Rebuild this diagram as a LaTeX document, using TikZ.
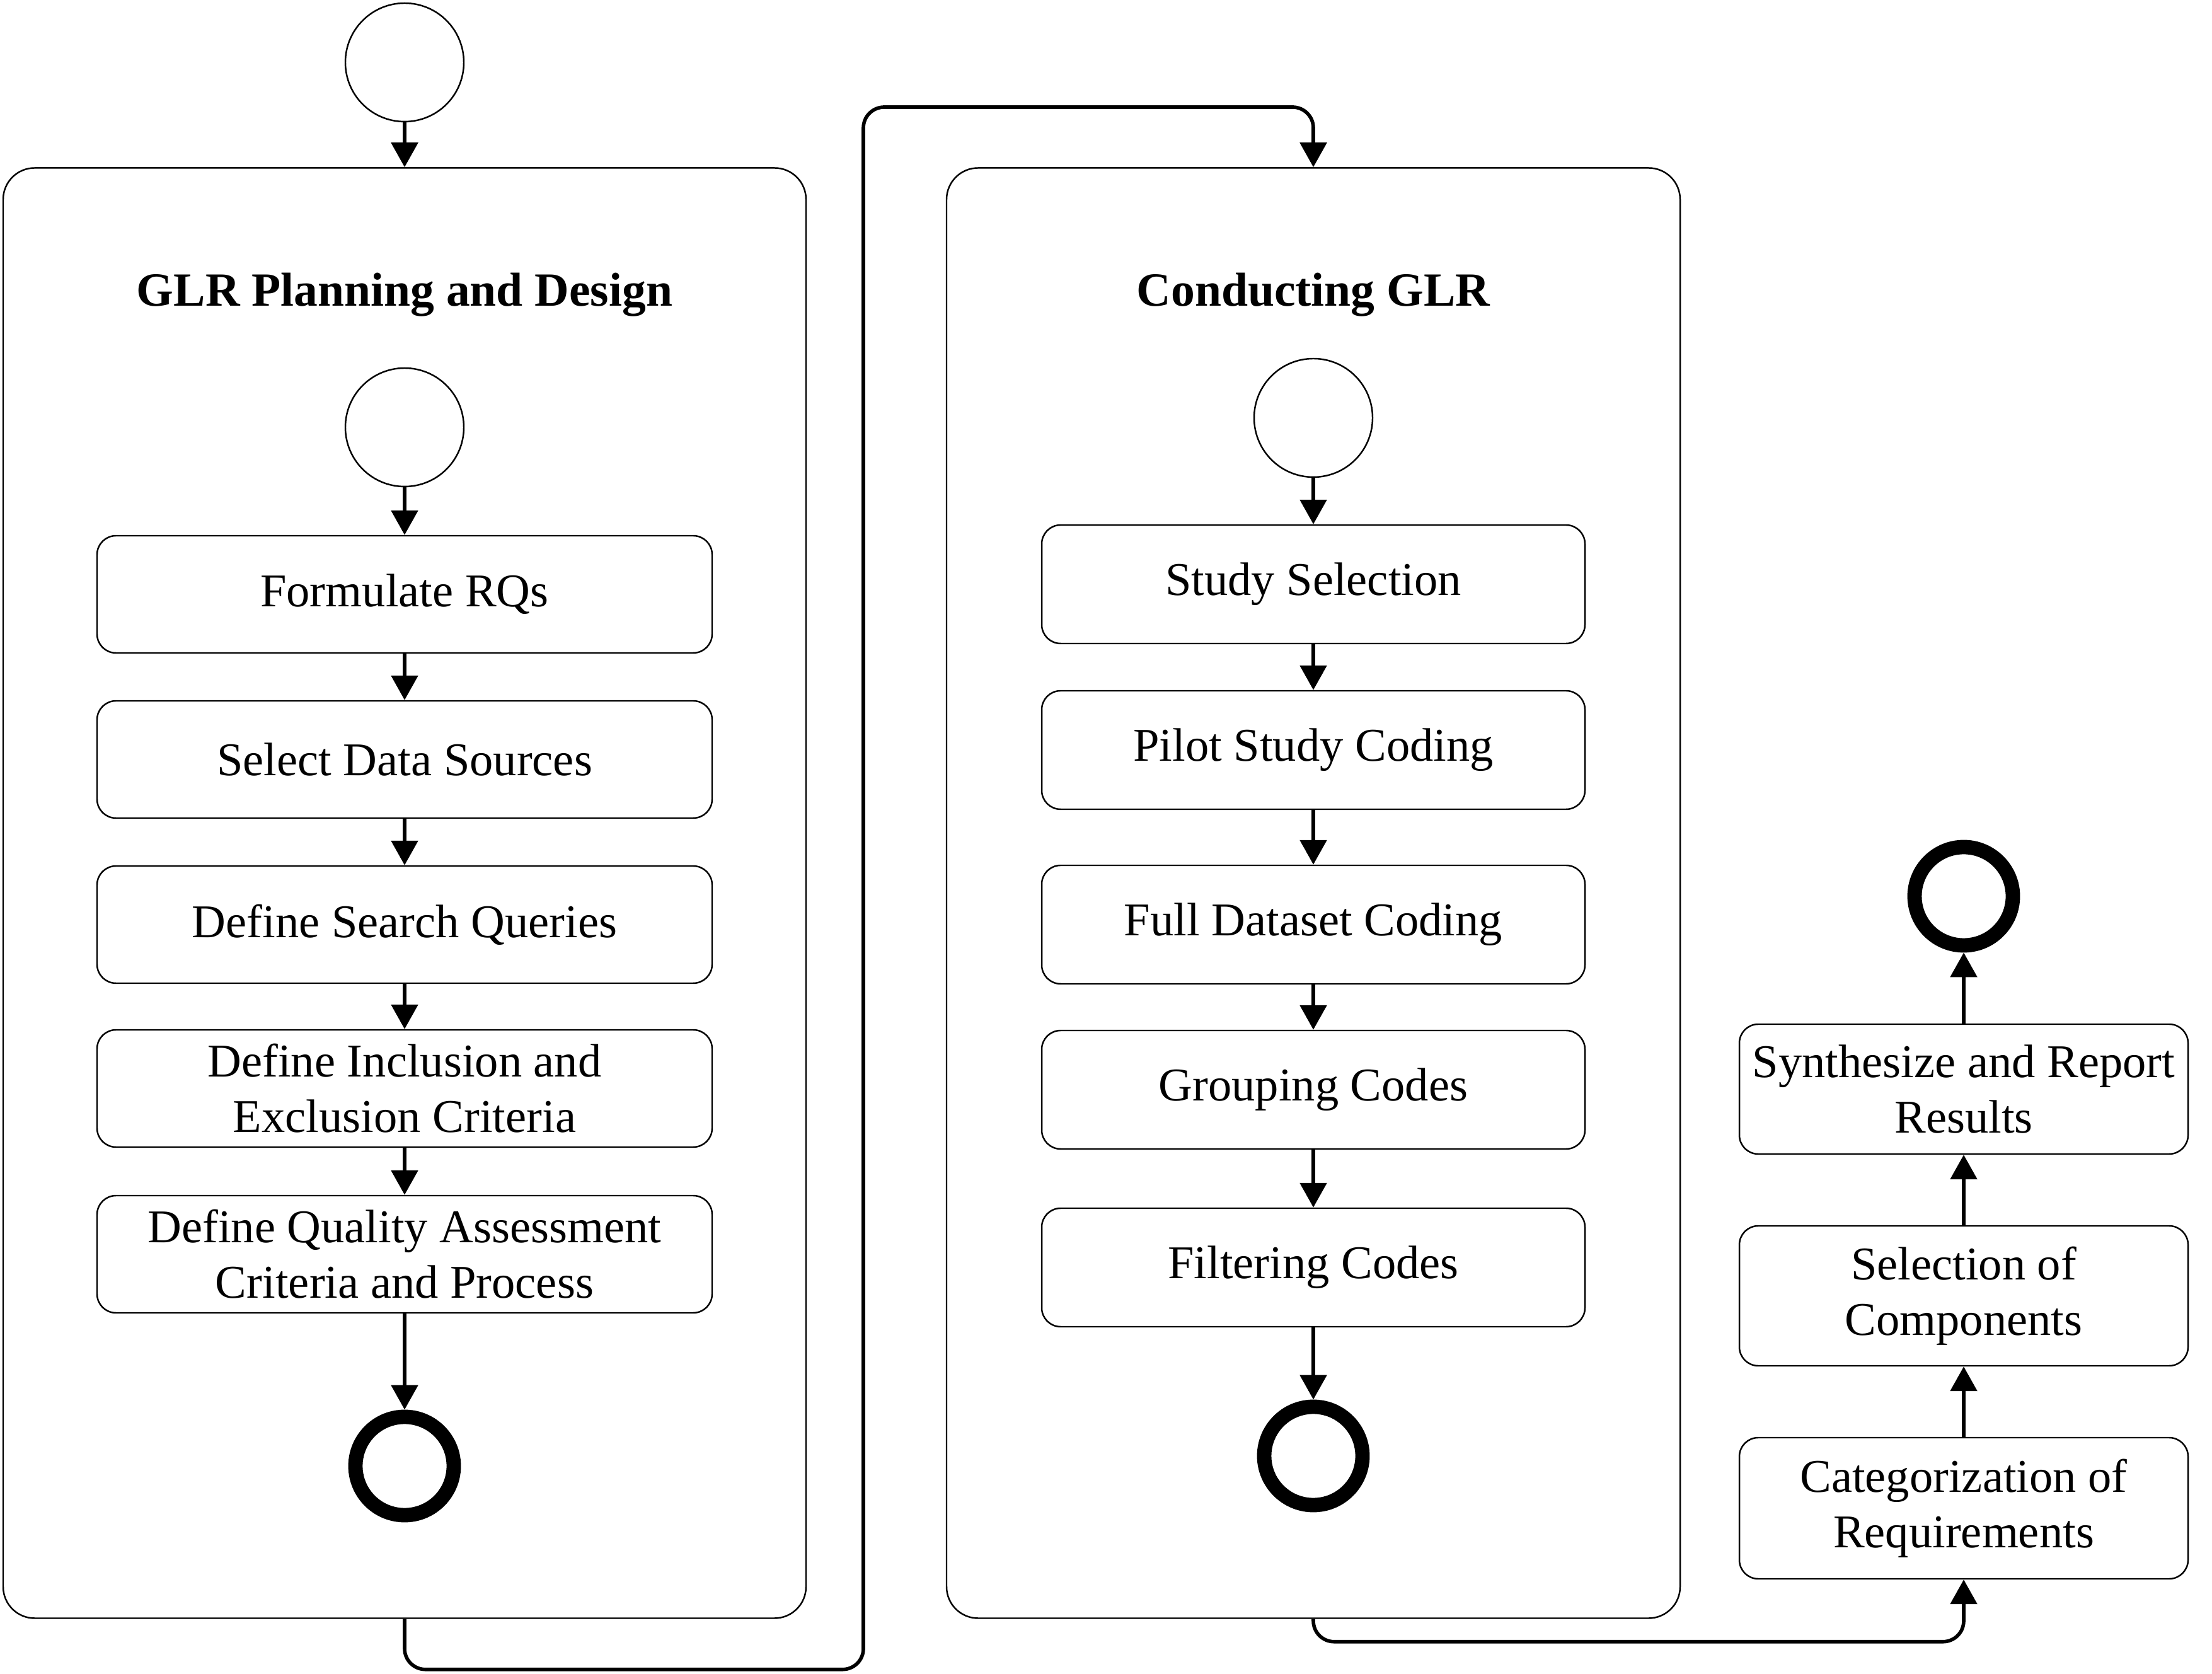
\documentclass[tikz,border=0pt]{standalone}
\usepackage{fontspec}
\setmainfont{Liberation Serif}
\usetikzlibrary{positioning,arrows.meta}
\tikzset{act/.style={rectangle,rounded corners=0.3cm,draw,line width=0.7pt,minimum width=9.76cm,minimum height=1.86cm,align=center},
            ini/.style={circle,draw,line width=0.7pt,minimum size=1.88cm},
            fin/.style={circle,draw,line width=6.5pt,minimum size=1.56cm},
            pan/.style={rectangle,rounded corners=0.5cm,draw,line width=0.7pt,minimum width=12.74cm,minimum height=23.01cm}}

\begin{document}
\begin{tikzpicture}[font=\fontsize{21.2}{25}\selectfont, >={Triangle[length=0.39cm,width=0.42cm]}]
\useasboundingbox (0,0) rectangle (35.1,26.55);
\node[ini] at (6.42,25.56)(0){};
\node[pan] at (6.42,12.38)(1){};
\node[font=\fontsize{21.5}{25}\selectfont\bfseries] at (6.42,21.87)(2){GLR Planning and Design};
\node[ini] at (6.42,19.77)(3){};
\node[act] at (6.42,17.12)(4){Formulate RQs};
\node[act] at (6.42,14.50)(5){Select Data Sources};
\node[act] at (6.42,11.88)(6){Define Search Queries};
\node[act] at (6.42,9.28)(7){Define Inclusion and\\Exclusion Criteria};
\node[act] at (6.42,6.65)(8){Define Quality Assessment\\Criteria and Process};
\node[fin] at (6.42,3.29)(9){};
\node[pan, minimum width=11.64cm] at (20.84,12.38)(10){};
\node[font=\fontsize{21.5}{25}\selectfont\bfseries] at (20.84,21.87)(11){Conducting GLR};
\node[ini] at (20.84,19.92)(12){};
\node[act, minimum width=8.62cm, minimum height=1.88cm] at (20.84,17.28)(13){Study Selection};
\node[act, minimum width=8.62cm, minimum height=1.88cm] at (20.84,14.65)(14){Pilot Study Coding};
\node[act, minimum width=8.62cm, minimum height=1.88cm] at (20.84,11.88)(15){Full Dataset Coding};
\node[act, minimum width=8.62cm, minimum height=1.88cm] at (20.84,9.26)(16){Grouping Codes};
\node[act, minimum width=8.62cm, minimum height=1.88cm] at (20.84,6.44)(17){Filtering Codes};
\node[fin] at (20.84,3.45)(18){};
\node[act, minimum width=7.12cm, minimum height=2.24cm] at (31.16,2.62)(19){Categorization of\\Requirements};
\node[act, minimum width=7.12cm, minimum height=2.22cm] at (31.16,5.99)(20){Selection of\\Components};
\node[act, minimum width=7.12cm, minimum height=2.06cm] at (31.16,9.27)(21){Synthesize and Report\\Results};
\node[fin] at (31.16,12.33)(22){};
\coordinate (23) at (13.70,24.85);
\draw[->, ultra thick] (0) edge (1);
\draw[->, ultra thick] (3) edge (4);
\draw[->, ultra thick] (4) edge (5);
\draw[->, ultra thick] (5) edge (6);
\draw[->, ultra thick] (6) edge (7);
\draw[->, ultra thick] (7) edge (8);
\draw[->, ultra thick] (8) edge (9);
\draw[->, ultra thick] (12) edge (13);
\draw[->, ultra thick] (13) edge (14);
\draw[->, ultra thick] (14) edge (15);
\draw[->, ultra thick] (15) edge (16);
\draw[->, ultra thick] (16) edge (17);
\draw[->, ultra thick] (17) edge (18);
\draw[->, ultra thick] (19) edge (20);
\draw[->, ultra thick] (20) edge (21);
\draw[->, ultra thick] (21) edge (22);
\draw[->, ultra thick, rounded corners=0.33cm] (1.south) -- ++(0,-0.80) -| (23) -| (10.north);
\draw[->, ultra thick, rounded corners=0.33cm] (10.south) -- ++(0,-0.36) -| (19.south);
\end{tikzpicture}
\end{document}
